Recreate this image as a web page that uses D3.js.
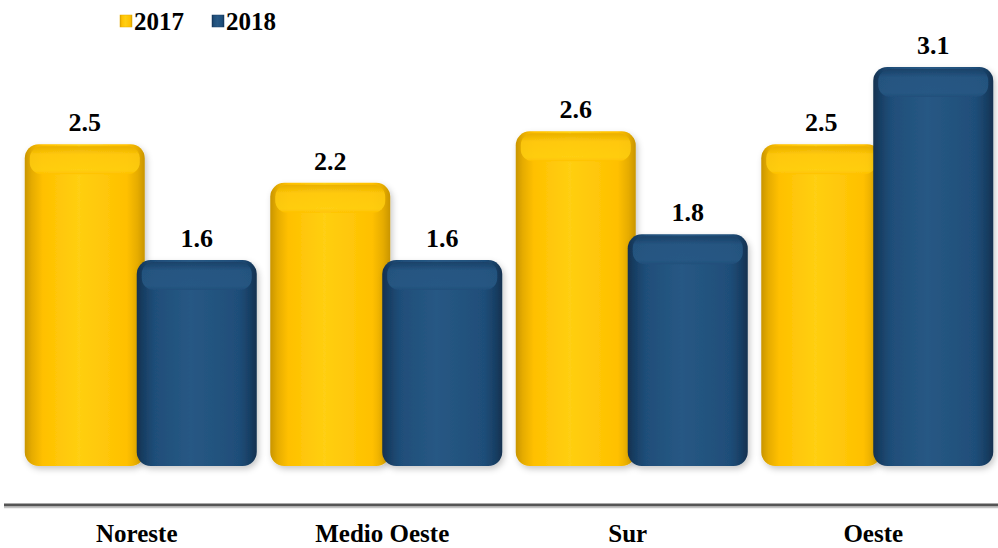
<!DOCTYPE html>
<html><head><meta charset="utf-8">
<script src="https://cdn.jsdelivr.net/npm/d3@7"></script>
<style>body{margin:0;background:#fff}svg{display:block}</style>
</head><body>
<svg id="c" width="998" height="548"></svg>
<script>
const categories = ["Noreste", "Medio Oeste", "Sur", "Oeste"];
const years = ["2017", "2018"];
const values2017 = [2.5, 2.2, 2.6, 2.5];
const values2018 = [1.6, 1.6, 1.8, 3.1];

const svg = d3.select("#c");
const font = "'Liberation Serif','Times New Roman',serif";
const baseY = 466;

const x0 = d3.scaleBand().domain(categories).range([14, 996]);
const x1 = d3.scalePoint().domain(years).range([-52, 60]);
const y = d3.scaleLinear().domain([0, 3.1]).range([baseY, 67]);
const barW = 120;

const pal = {
  "2017": {dark: "#C99500", base: "#FFC000", light: "#FFCF12", top: "#FFC90A", edge: "#E6AC00"},
  "2018": {dark: "#12314F", base: "#1F4E79", light: "#275884", top: "#265682", edge: "#183F65"}
};

const defs = svg.append("defs");
years.forEach(yr => {
  const p = pal[yr];
  const g = defs.append("linearGradient").attr("id", "h" + yr).attr("x1", 0).attr("x2", 1).attr("y1", 0).attr("y2", 0);
  [[0, p.dark], [0.06, p.edge], [0.15, p.base], [0.45, p.light], [0.85, p.base], [0.94, p.edge], [1, p.dark]]
    .forEach(s => g.append("stop").attr("offset", s[0]).attr("stop-color", s[1]));
  const t = defs.append("linearGradient").attr("id", "t" + yr).attr("x1", 0).attr("x2", 0).attr("y1", 0).attr("y2", 1);
  [[0, p.edge], [0.3, p.top], [0.85, p.light], [1, p.base]]
    .forEach(s => t.append("stop").attr("offset", s[0]).attr("stop-color", s[1]));
});
const f = defs.append("filter").attr("id", "sh").attr("x", "-20%").attr("y", "-20%").attr("width", "140%").attr("height", "140%");
f.append("feDropShadow").attr("dx", 2).attr("dy", 3).attr("stdDeviation", 3).attr("flood-color", "#000").attr("flood-opacity", 0.22);

const rows = [];
categories.forEach((c, i) => {
  rows.push({cat: c, yr: "2017", v: values2017[i]});
  rows.push({cat: c, yr: "2018", v: values2018[i]});
});

const gBars = svg.append("g");
const gLab = svg.append("g");
rows.forEach(d => {
  const cx = x0(d.cat) + x0.bandwidth() / 2 + x1(d.yr);
  const x = cx - barW / 2, top = y(d.v), h = baseY - top;
  const g = gBars.append("g").attr("filter", "url(#sh)");
  g.append("rect").attr("x", x).attr("y", top).attr("width", barW).attr("height", h)
    .attr("rx", 14).attr("ry", 14).attr("fill", `url(#h${d.yr})`);
  g.append("rect").attr("x", x + 5).attr("y", top + 2).attr("width", barW - 10).attr("height", 28)
    .attr("rx", 12).attr("ry", 12).attr("fill", `url(#t${d.yr})`).attr("opacity", 0.85);
  gLab.append("text").attr("x", cx).attr("y", top - 13).attr("text-anchor", "middle")
    .attr("font-family", font).attr("font-weight", "bold").attr("font-size", 26).attr("fill", "#000")
    .text(d.v.toFixed(1));
});

// axis line
svg.append("line").attr("x1", 4).attr("x2", 998).attr("y1", 505).attr("y2", 505)
  .attr("stroke", "#555").attr("stroke-width", 3);
svg.append("line").attr("x1", 4).attr("x2", 998).attr("y1", 507.5).attr("y2", 507.5)
  .attr("stroke", "#c4c4c4").attr("stroke-width", 1.5);

const ax = svg.append("g").attr("transform", "translate(0,505)")
  .call(d3.axisBottom(x0).tickSize(0));
ax.select(".domain").remove();
ax.selectAll("text").attr("y", 37).attr("dy", 0)
  .attr("font-family", font).attr("font-weight", "bold").attr("font-size", 25).attr("fill", "#000");

// legend
const leg = svg.append("g");
const legX = [120, 212];
years.forEach((yr, i) => {
  leg.append("rect").attr("x", legX[i]).attr("y", 15).attr("width", 12).attr("height", 12)
    .attr("fill", `url(#h${yr})`).attr("stroke", pal[yr].edge).attr("stroke-width", 0.5);
  leg.append("text").attr("x", legX[i] + 14).attr("y", 30).attr("font-family", font)
    .attr("font-weight", "bold").attr("font-size", 25).attr("fill", "#000").text(yr);
});
</script>
</body></html>
